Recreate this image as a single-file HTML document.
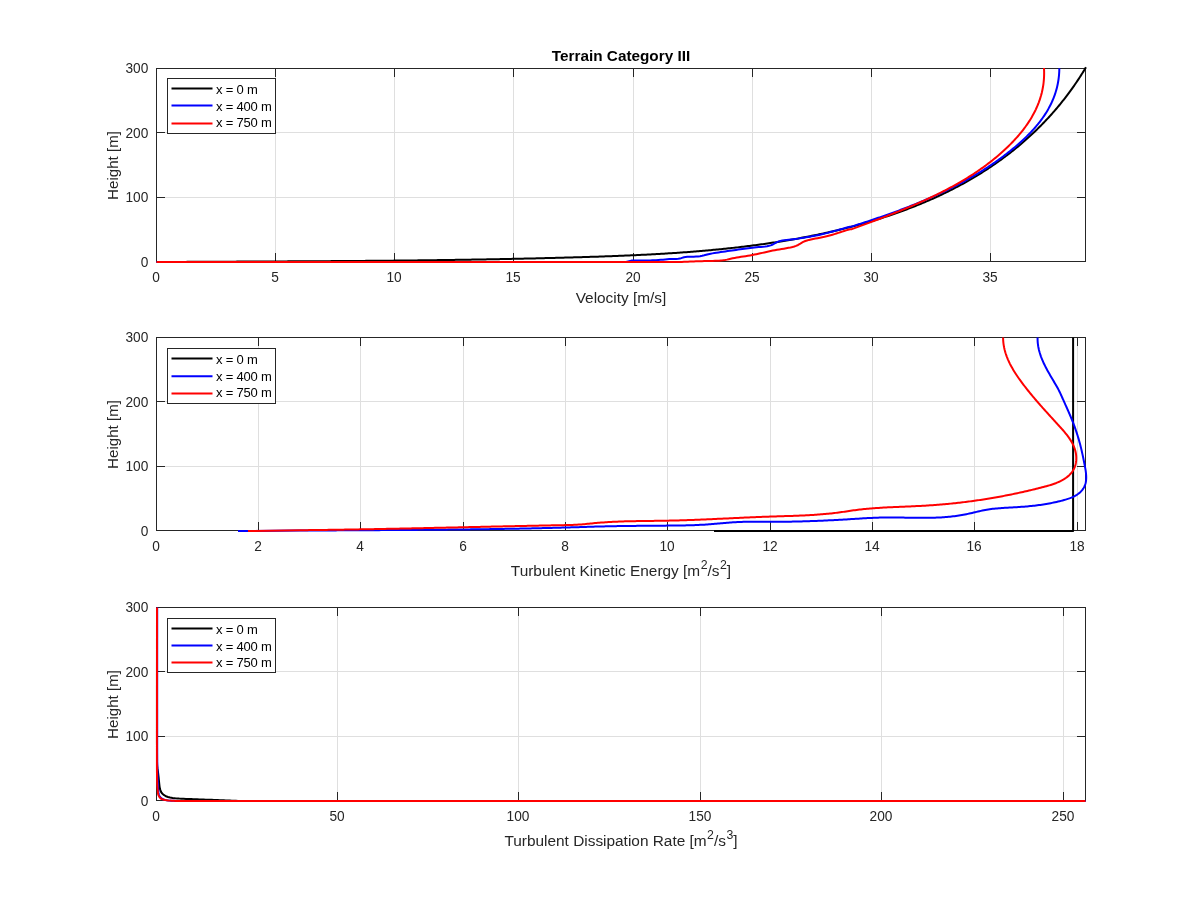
<!DOCTYPE html><html><head><meta charset="utf-8"><style>html,body{margin:0;padding:0;background:#fff;width:1200px;height:900px;overflow:hidden}svg{display:block;will-change:transform}text{font-family:"Liberation Sans", sans-serif}</style></head><body>
<svg width="1200" height="900" viewBox="0 0 1200 900">
<rect width="1200" height="900" fill="#fff"/>
<text x="621" y="61" font-size="15.3" font-weight="bold" fill="#000" text-anchor="middle">Terrain Category III</text>
<path d="M275.5,68.5V261.5M394.5,68.5V261.5M513.5,68.5V261.5M633.5,68.5V261.5M752.5,68.5V261.5M871.5,68.5V261.5M990.5,68.5V261.5M156.5,197.5H1085.5M156.5,132.5H1085.5" stroke="#dfdfdf" stroke-width="1" fill="none"/>
<rect x="156.5" y="68.5" width="929.0" height="193.0" fill="none" stroke="#262626" stroke-width="1"/>
<path d="M156.5,261.5v-8.5M156.5,68.5v8.5M275.5,261.5v-8.5M275.5,68.5v8.5M394.5,261.5v-8.5M394.5,68.5v8.5M513.5,261.5v-8.5M513.5,68.5v8.5M633.5,261.5v-8.5M633.5,68.5v8.5M752.5,261.5v-8.5M752.5,68.5v8.5M871.5,261.5v-8.5M871.5,68.5v8.5M990.5,261.5v-8.5M990.5,68.5v8.5M156.5,261.5h8.5M1085.5,261.5h-8.5M156.5,197.5h8.5M1085.5,197.5h-8.5M156.5,132.5h8.5M1085.5,132.5h-8.5M156.5,68.5h8.5M1085.5,68.5h-8.5" stroke="#262626" stroke-width="1" fill="none"/>
<text transform="translate(156.00,282.0) scale(1,1.05)" font-size="13.7" fill="#262626" text-anchor="middle">0</text>
<text transform="translate(275.00,282.0) scale(1,1.05)" font-size="13.7" fill="#262626" text-anchor="middle">5</text>
<text transform="translate(394.00,282.0) scale(1,1.05)" font-size="13.7" fill="#262626" text-anchor="middle">10</text>
<text transform="translate(513.00,282.0) scale(1,1.05)" font-size="13.7" fill="#262626" text-anchor="middle">15</text>
<text transform="translate(633.00,282.0) scale(1,1.05)" font-size="13.7" fill="#262626" text-anchor="middle">20</text>
<text transform="translate(752.00,282.0) scale(1,1.05)" font-size="13.7" fill="#262626" text-anchor="middle">25</text>
<text transform="translate(871.00,282.0) scale(1,1.05)" font-size="13.7" fill="#262626" text-anchor="middle">30</text>
<text transform="translate(990.00,282.0) scale(1,1.05)" font-size="13.7" fill="#262626" text-anchor="middle">35</text>
<text transform="translate(148.3,266.80) scale(1,1.05)" font-size="13.7" fill="#262626" text-anchor="end">0</text>
<text transform="translate(148.3,201.77) scale(1,1.05)" font-size="13.7" fill="#262626" text-anchor="end">100</text>
<text transform="translate(148.3,137.83) scale(1,1.05)" font-size="13.7" fill="#262626" text-anchor="end">200</text>
<text transform="translate(148.3,72.80) scale(1,1.05)" font-size="13.7" fill="#262626" text-anchor="end">300</text>
<text transform="translate(118,165.5) rotate(-90)" font-size="15.1" fill="#262626" text-anchor="middle">Height [m]</text>
<text x="621" y="302.5" font-size="15.4" fill="#262626" text-anchor="middle">Velocity [m/s]</text>
<path d="M156.50,262.00 L170.78,261.96 L172.29,261.95 L173.80,261.94 L175.31,261.94 L176.82,261.93 L178.33,261.92 L179.84,261.91 L181.35,261.90 L182.86,261.89 L184.36,261.89 L185.87,261.88 L187.38,261.87 L188.89,261.86 L190.40,261.85 L191.90,261.85 L193.41,261.84 L194.92,261.83 L196.43,261.82 L197.93,261.81 L199.44,261.81 L200.95,261.80 L202.45,261.79 L203.96,261.78 L205.47,261.78 L206.97,261.77 L208.48,261.76 L209.98,261.75 L211.49,261.75 L212.99,261.74 L214.50,261.73 L216.00,261.72 L217.51,261.72 L219.01,261.71 L220.52,261.70 L222.02,261.69 L223.53,261.69 L225.03,261.68 L226.54,261.67 L228.04,261.67 L229.55,261.66 L231.05,261.65 L232.55,261.64 L234.06,261.64 L235.56,261.63 L237.06,261.62 L238.57,261.62 L240.07,261.61 L241.57,261.60 L243.08,261.59 L244.58,261.59 L246.08,261.58 L247.58,261.57 L249.09,261.57 L250.59,261.56 L252.09,261.55 L253.59,261.54 L255.09,261.54 L256.60,261.53 L258.10,261.52 L259.60,261.52 L261.10,261.51 L262.60,261.50 L264.10,261.49 L265.60,261.49 L267.10,261.48 L268.61,261.47 L270.11,261.46 L271.61,261.46 L273.11,261.45 L274.61,261.44 L276.11,261.43 L277.61,261.43 L279.11,261.42 L280.61,261.41 L282.11,261.40 L283.61,261.40 L285.11,261.39 L286.61,261.38 L288.11,261.37 L289.61,261.37 L291.11,261.36 L292.61,261.35 L294.11,261.34 L295.60,261.33 L297.10,261.33 L298.60,261.32 L300.10,261.31 L301.60,261.30 L303.10,261.29 L304.60,261.28 L306.10,261.28 L307.59,261.27 L309.09,261.26 L310.59,261.25 L312.09,261.24 L313.59,261.23 L315.09,261.22 L316.58,261.21 L318.08,261.20 L319.58,261.20 L321.08,261.19 L322.58,261.18 L324.07,261.17 L325.57,261.16 L327.07,261.15 L328.57,261.14 L330.06,261.13 L331.56,261.12 L333.06,261.11 L334.55,261.10 L336.05,261.09 L337.55,261.08 L339.05,261.07 L340.54,261.06 L342.04,261.05 L343.54,261.04 L345.03,261.03 L346.53,261.02 L348.03,261.01 L349.52,261.00 L351.02,260.99 L352.52,260.97 L354.01,260.96 L355.51,260.95 L357.01,260.94 L358.50,260.93 L360.00,260.92 L361.49,260.91 L362.99,260.89 L364.49,260.88 L365.98,260.87 L367.48,260.86 L368.97,260.84 L370.47,260.83 L371.97,260.82 L373.46,260.81 L374.96,260.79 L376.45,260.78 L377.95,260.77 L379.45,260.75 L380.94,260.74 L382.44,260.73 L383.93,260.71 L385.43,260.70 L386.92,260.69 L388.42,260.67 L389.92,260.66 L391.41,260.64 L392.91,260.63 L394.40,260.61 L395.90,260.60 L397.39,260.58 L398.89,260.57 L400.38,260.55 L401.88,260.54 L403.37,260.52 L404.87,260.51 L406.37,260.49 L407.86,260.48 L409.36,260.46 L410.85,260.44 L412.35,260.43 L413.84,260.41 L415.34,260.39 L416.83,260.38 L418.33,260.36 L419.82,260.34 L421.32,260.32 L422.81,260.31 L424.31,260.29 L425.80,260.27 L427.30,260.25 L428.79,260.23 L430.29,260.22 L431.78,260.20 L433.28,260.18 L434.78,260.16 L436.27,260.14 L437.77,260.12 L439.26,260.10 L440.76,260.08 L442.25,260.06 L443.75,260.04 L445.24,260.02 L446.74,260.00 L448.23,259.98 L449.73,259.96 L451.22,259.94 L452.72,259.91 L454.21,259.89 L455.71,259.87 L457.21,259.85 L458.70,259.83 L460.20,259.80 L461.69,259.78 L463.19,259.76 L464.68,259.73 L466.18,259.71 L467.67,259.69 L469.17,259.66 L470.67,259.64 L472.16,259.62 L473.66,259.59 L475.15,259.57 L476.65,259.54 L478.14,259.52 L479.64,259.49 L481.14,259.46 L482.63,259.44 L484.13,259.41 L485.62,259.39 L487.12,259.36 L488.62,259.33 L490.11,259.31 L491.61,259.28 L493.11,259.25 L494.60,259.22 L496.10,259.20 L497.59,259.17 L499.09,259.14 L500.59,259.11 L502.08,259.08 L503.58,259.05 L505.08,259.02 L506.57,258.99 L508.07,258.96 L509.57,258.93 L511.06,258.90 L512.56,258.87 L514.06,258.84 L515.55,258.81 L517.05,258.78 L518.55,258.74 L520.05,258.71 L521.54,258.68 L523.04,258.65 L524.54,258.61 L526.04,258.58 L527.53,258.55 L529.03,258.51 L530.53,258.48 L532.03,258.45 L533.52,258.41 L535.02,258.38 L536.52,258.34 L538.02,258.31 L539.52,258.27 L541.01,258.23 L542.51,258.20 L544.01,258.16 L545.51,258.12 L547.01,258.09 L548.51,258.05 L550.00,258.01 L551.50,257.97 L553.00,257.94 L554.50,257.90 L556.00,257.86 L557.50,257.82 L559.00,257.78 L560.50,257.74 L562.00,257.70 L563.50,257.66 L565.00,257.62 L566.49,257.58 L567.99,257.53 L569.49,257.49 L570.99,257.45 L572.49,257.41 L573.99,257.37 L575.49,257.32 L576.99,257.28 L578.49,257.24 L580.00,257.19 L581.50,257.15 L583.00,257.10 L584.50,257.06 L586.00,257.01 L587.50,256.97 L589.00,256.92 L590.50,256.87 L592.00,256.82 L593.50,256.78 L595.00,256.73 L596.51,256.68 L598.01,256.63 L599.51,256.58 L601.01,256.53 L602.51,256.48 L604.01,256.42 L605.51,256.37 L607.02,256.32 L608.52,256.26 L610.02,256.21 L611.52,256.15 L613.02,256.10 L614.52,256.04 L616.03,255.98 L617.53,255.92 L619.03,255.87 L620.53,255.81 L622.03,255.74 L623.53,255.68 L625.04,255.62 L626.54,255.56 L628.04,255.49 L629.54,255.43 L631.04,255.36 L632.55,255.30 L634.05,255.23 L635.55,255.16 L637.05,255.09 L638.55,255.02 L640.05,254.95 L641.56,254.87 L643.06,254.80 L644.56,254.72 L646.06,254.65 L647.56,254.57 L649.06,254.49 L650.56,254.41 L652.07,254.33 L653.57,254.25 L655.07,254.17 L656.57,254.09 L658.07,254.00 L659.57,253.92 L661.07,253.83 L662.57,253.74 L664.07,253.65 L665.57,253.56 L667.08,253.47 L668.58,253.37 L670.08,253.28 L671.58,253.18 L673.08,253.08 L674.58,252.98 L676.08,252.88 L677.58,252.78 L679.08,252.68 L680.58,252.57 L682.08,252.47 L683.58,252.36 L685.08,252.25 L686.57,252.14 L688.07,252.03 L689.57,251.91 L691.07,251.80 L692.57,251.68 L694.07,251.56 L695.57,251.44 L697.07,251.32 L698.56,251.20 L700.06,251.07 L701.56,250.94 L703.06,250.82 L704.56,250.69 L706.05,250.55 L707.55,250.42 L709.05,250.29 L710.54,250.15 L712.04,250.01 L713.54,249.87 L715.03,249.73 L716.53,249.58 L718.03,249.44 L719.52,249.29 L721.02,249.14 L722.51,248.99 L724.01,248.84 L725.50,248.68 L727.00,248.52 L728.49,248.36 L729.99,248.20 L731.48,248.04 L732.98,247.88 L734.47,247.71 L735.96,247.54 L737.46,247.37 L738.95,247.19 L740.44,247.02 L741.93,246.84 L743.43,246.66 L744.92,246.48 L746.41,246.30 L747.90,246.11 L749.39,245.92 L750.89,245.73 L752.38,245.54 L753.87,245.35 L755.36,245.15 L756.85,244.95 L758.34,244.75 L759.83,244.54 L761.32,244.34 L762.81,244.13 L764.30,243.92 L765.78,243.71 L767.27,243.49 L768.76,243.27 L770.25,243.05 L771.74,242.83 L773.22,242.61 L774.71,242.38 L776.20,242.15 L777.68,241.92 L779.17,241.68 L780.65,241.44 L782.14,241.20 L783.62,240.96 L785.11,240.72 L786.59,240.47 L788.08,240.22 L789.56,239.97 L791.04,239.71 L792.53,239.45 L794.01,239.19 L795.49,238.93 L796.97,238.66 L798.46,238.40 L799.94,238.12 L801.42,237.85 L802.90,237.57 L804.38,237.29 L805.86,237.01 L807.34,236.73 L808.82,236.44 L810.29,236.15 L811.77,235.85 L813.25,235.56 L814.73,235.26 L816.20,234.96 L817.68,234.65 L819.15,234.34 L820.63,234.03 L822.10,233.72 L823.57,233.40 L825.05,233.08 L826.52,232.76 L827.99,232.43 L829.46,232.10 L830.93,231.77 L832.40,231.43 L833.87,231.09 L835.33,230.75 L836.80,230.41 L838.26,230.06 L839.73,229.71 L841.19,229.35 L842.65,229.00 L844.12,228.63 L845.58,228.27 L847.04,227.90 L848.49,227.53 L849.95,227.16 L851.41,226.78 L852.86,226.40 L854.32,226.01 L855.77,225.62 L857.22,225.23 L858.67,224.84 L860.12,224.44 L861.57,224.04 L863.01,223.63 L864.46,223.22 L865.90,222.81 L867.35,222.39 L868.79,221.98 L870.23,221.55 L871.67,221.13 L873.10,220.69 L874.54,220.26 L875.97,219.82 L877.41,219.38 L878.84,218.94 L880.27,218.49 L881.70,218.03 L883.12,217.58 L884.55,217.12 L885.97,216.65 L887.39,216.19 L888.81,215.71 L890.23,215.24 L891.65,214.76 L893.07,214.27 L894.48,213.79 L895.89,213.30 L897.30,212.80 L898.71,212.30 L900.11,211.80 L901.52,211.29 L902.92,210.78 L904.32,210.26 L905.72,209.74 L907.12,209.22 L908.51,208.69 L909.91,208.16 L911.30,207.63 L912.68,207.09 L914.07,206.54 L915.46,205.99 L916.84,205.44 L918.22,204.88 L919.60,204.32 L920.97,203.76 L922.35,203.19 L923.72,202.61 L925.09,202.03 L926.46,201.45 L927.82,200.86 L929.18,200.27 L930.55,199.68 L931.90,199.08 L933.26,198.47 L934.61,197.86 L935.96,197.25 L937.31,196.63 L938.66,196.01 L940.00,195.38 L941.34,194.75 L942.68,194.11 L944.02,193.47 L945.35,192.83 L946.68,192.18 L948.01,191.52 L949.34,190.86 L950.66,190.20 L951.98,189.53 L953.30,188.85 L954.62,188.18 L955.93,187.49 L957.24,186.81 L958.54,186.11 L959.85,185.41 L961.15,184.71 L962.45,184.00 L963.74,183.29 L965.04,182.58 L966.33,181.85 L967.61,181.13 L968.90,180.40 L970.18,179.66 L971.46,178.92 L972.73,178.17 L974.01,177.42 L975.27,176.66 L976.54,175.90 L977.80,175.13 L979.06,174.36 L980.32,173.58 L981.57,172.80 L982.82,172.01 L984.07,171.22 L985.32,170.42 L986.56,169.62 L987.79,168.81 L989.03,168.00 L990.26,167.18 L991.49,166.35 L992.71,165.52 L993.93,164.69 L995.15,163.85 L996.36,163.00 L997.57,162.15 L998.78,161.30 L999.98,160.44 L1001.18,159.57 L1002.38,158.70 L1003.57,157.82 L1004.76,156.94 L1005.95,156.05 L1007.13,155.15 L1008.31,154.25 L1009.48,153.35 L1010.65,152.44 L1011.82,151.52 L1012.98,150.60 L1014.14,149.67 L1015.30,148.74 L1016.45,147.80 L1017.60,146.86 L1018.74,145.91 L1019.88,144.95 L1021.02,143.99 L1022.15,143.02 L1023.28,142.05 L1024.40,141.07 L1025.52,140.09 L1026.64,139.10 L1027.75,138.10 L1028.86,137.10 L1029.96,136.09 L1031.06,135.08 L1032.15,134.06 L1033.25,133.04 L1034.33,132.01 L1035.41,130.97 L1036.49,129.93 L1037.57,128.88 L1038.63,127.83 L1039.70,126.77 L1040.76,125.70 L1041.82,124.63 L1042.87,123.55 L1043.91,122.47 L1044.96,121.38 L1045.99,120.28 L1047.03,119.18 L1048.06,118.07 L1049.08,116.96 L1050.10,115.84 L1051.12,114.71 L1052.13,113.58 L1053.13,112.44 L1054.13,111.30 L1055.13,110.15 L1056.12,108.99 L1057.11,107.83 L1058.09,106.66 L1059.06,105.49 L1060.04,104.30 L1061.00,103.12 L1061.96,101.92 L1062.92,100.72 L1063.87,99.52 L1064.82,98.30 L1065.76,97.08 L1066.70,95.86 L1067.63,94.63 L1068.56,93.39 L1069.48,92.14 L1070.39,90.89 L1071.31,89.64 L1072.21,88.37 L1073.11,87.10 L1074.01,85.83 L1074.90,84.54 L1075.78,83.25 L1076.66,81.96 L1077.53,80.65 L1078.40,79.34 L1079.27,78.03 L1080.12,76.71 L1080.98,75.38 L1081.82,74.04 L1082.66,72.70 L1083.50,71.35 L1084.33,70.00 L1085.15,68.63 L1085.97,67.27" stroke="#000" stroke-width="2" fill="none" stroke-linejoin="round"/>
<path d="M156.50,262.00 L626.00,262.00 L631.30,260.60 L633.38,260.57 L635.50,260.55 L637.65,260.53 L639.82,260.51 L641.98,260.50 L644.13,260.48 L646.25,260.46 L648.33,260.43 L650.36,260.39 L652.32,260.34 L654.21,260.28 L656.00,260.20 L658.47,260.05 L660.79,259.86 L663.00,259.66 L665.13,259.45 L667.21,259.26 L669.30,259.10 L671.60,259.00 L673.92,258.97 L676.16,258.93 L678.22,258.83 L680.00,258.60 L681.95,257.91 L684.00,257.20 L685.50,256.98 L687.32,256.84 L689.35,256.76 L691.53,256.70 L693.77,256.64 L695.98,256.55 L698.09,256.42 L700.00,256.20 L702.21,255.80 L704.22,255.31 L706.20,254.77 L708.30,254.22 L710.70,253.70 L712.45,253.38 L714.35,253.05 L716.39,252.72 L718.53,252.39 L720.75,252.06 L723.01,251.73 L725.30,251.40 L727.57,251.08 L729.80,250.77 L731.97,250.46 L734.05,250.18 L736.00,249.90 L738.21,249.59 L740.33,249.30 L742.37,249.02 L744.36,248.75 L746.34,248.49 L748.32,248.23 L750.33,247.97 L752.40,247.70 L754.43,247.47 L756.55,247.27 L758.72,247.08 L760.90,246.90 L763.06,246.70 L765.16,246.47 L767.15,246.18 L769.01,245.83 L770.70,245.40 L772.87,244.50 L774.66,243.42 L776.48,242.34 L778.70,241.40 L780.40,240.94 L782.28,240.55 L784.32,240.21 L786.48,239.92 L788.72,239.65 L791.01,239.40 L793.32,239.16 L795.61,238.90 L797.85,238.62 L800.00,238.30 L802.01,237.98 L803.98,237.66 L805.93,237.34 L807.87,237.03 L809.80,236.70 L811.76,236.35 L813.74,235.99 L815.77,235.59 L817.85,235.17 L820.00,234.70 L821.83,234.28 L823.71,233.83 L825.63,233.35 L827.58,232.85 L829.57,232.32 L831.58,231.78 L833.61,231.23 L835.66,230.66 L837.72,230.09 L839.78,229.51 L841.85,228.94 L843.91,228.36 L845.96,227.80 L847.99,227.24 L850.00,226.70 L851.72,226.54 L853.12,226.10 L854.51,225.65 L855.90,225.21 L857.30,224.76 L858.70,224.31 L860.09,223.86 L861.49,223.41 L862.89,222.96 L864.29,222.50 L865.69,222.04 L867.09,221.58 L868.49,221.12 L869.90,220.66 L871.30,220.19 L872.70,219.72 L874.10,219.25 L875.51,218.78 L876.91,218.30 L878.31,217.82 L879.72,217.34 L881.12,216.86 L882.53,216.37 L883.93,215.88 L885.33,215.39 L886.74,214.90 L888.14,214.40 L889.54,213.90 L890.95,213.40 L892.35,212.89 L893.75,212.38 L895.15,211.87 L896.56,211.36 L897.96,210.84 L899.36,210.32 L900.76,209.80 L902.16,209.27 L903.56,208.74 L904.95,208.21 L906.35,207.67 L907.75,207.13 L909.14,206.59 L910.54,206.04 L911.93,205.49 L913.32,204.94 L914.71,204.38 L916.10,203.82 L917.49,203.25 L918.88,202.69 L920.26,202.11 L921.65,201.54 L923.03,200.96 L924.41,200.38 L925.79,199.79 L927.17,199.20 L928.55,198.60 L929.92,198.00 L931.30,197.40 L932.67,196.79 L934.04,196.18 L935.41,195.56 L936.77,194.94 L938.14,194.32 L939.50,193.69 L940.86,193.06 L942.22,192.42 L943.58,191.78 L944.93,191.13 L946.28,190.48 L947.63,189.83 L948.98,189.17 L950.32,188.50 L951.66,187.83 L953.00,187.16 L954.34,186.48 L955.67,185.79 L957.01,185.11 L958.33,184.41 L959.66,183.71 L960.98,183.01 L962.30,182.30 L963.62,181.59 L964.94,180.87 L966.25,180.14 L967.56,179.41 L968.86,178.68 L970.16,177.94 L971.46,177.20 L972.76,176.44 L974.05,175.69 L975.34,174.93 L976.63,174.16 L977.91,173.39 L979.19,172.61 L980.46,171.83 L981.73,171.04 L983.00,170.24 L984.27,169.44 L985.53,168.63 L986.78,167.82 L988.04,167.00 L989.28,166.18 L990.53,165.35 L991.77,164.51 L993.01,163.67 L994.24,162.82 L995.47,161.96 L996.69,161.10 L997.91,160.24 L999.13,159.36 L1000.34,158.48 L1001.55,157.60 L1002.75,156.70 L1003.95,155.80 L1005.14,154.90 L1006.33,153.99 L1007.51,153.07 L1008.69,152.14 L1009.87,151.21 L1011.04,150.27 L1012.20,149.32 L1013.36,148.37 L1014.52,147.41 L1015.67,146.45 L1016.81,145.47 L1017.95,144.49 L1019.08,143.51 L1020.20,142.51 L1021.31,141.51 L1022.42,140.50 L1023.52,139.48 L1024.61,138.45 L1025.69,137.42 L1026.76,136.37 L1027.82,135.32 L1028.87,134.26 L1029.91,133.20 L1030.94,132.12 L1031.96,131.04 L1032.96,129.94 L1033.95,128.84 L1034.93,127.73 L1035.90,126.61 L1036.85,125.48 L1037.79,124.34 L1038.71,123.19 L1039.62,122.03 L1040.52,120.87 L1041.40,119.69 L1042.26,118.50 L1043.10,117.30 L1043.93,116.10 L1044.75,114.88 L1045.54,113.65 L1046.32,112.41 L1047.08,111.16 L1047.82,109.90 L1048.54,108.63 L1049.24,107.35 L1049.92,106.06 L1050.58,104.75 L1051.22,103.44 L1051.84,102.11 L1052.44,100.77 L1053.01,99.43 L1053.56,98.06 L1054.09,96.69 L1054.60,95.31 L1055.09,93.91 L1055.55,92.50 L1055.98,91.08 L1056.39,89.65 L1056.78,88.20 L1057.14,86.74 L1057.47,85.27 L1057.78,83.79 L1058.06,82.29 L1058.31,80.78 L1058.54,79.26 L1058.74,77.72 L1058.91,76.17 L1059.05,74.61 L1059.16,73.03 L1059.25,71.44 L1059.30,69.84 L1059.32,68.22" stroke="#0000ff" stroke-width="2" fill="none" stroke-linejoin="round"/>
<path d="M156.50,262.00 L680.00,262.00 L681.99,261.92 L683.98,261.84 L685.96,261.76 L687.94,261.68 L689.92,261.60 L691.91,261.52 L693.91,261.44 L695.92,261.36 L697.95,261.28 L700.00,261.20 L702.04,261.13 L704.14,261.08 L706.29,261.03 L708.46,260.99 L710.63,260.95 L712.80,260.90 L714.92,260.83 L717.00,260.74 L719.00,260.63 L720.91,260.48 L722.70,260.30 L724.90,259.99 L726.90,259.61 L728.80,259.19 L730.67,258.75 L732.61,258.32 L734.70,257.90 L736.74,257.54 L738.88,257.20 L741.07,256.86 L743.32,256.51 L745.59,256.16 L747.88,255.80 L750.15,255.41 L752.40,255.00 L754.41,254.60 L756.39,254.19 L758.37,253.76 L760.35,253.31 L762.35,252.86 L764.37,252.40 L766.43,251.93 L768.53,251.46 L770.70,251.00 L772.71,250.60 L774.83,250.21 L777.04,249.83 L779.31,249.45 L781.61,249.07 L783.91,248.67 L786.18,248.27 L788.38,247.85 L790.50,247.41 L792.49,246.94 L794.34,246.44 L796.00,245.90 L798.13,244.98 L799.89,243.97 L801.51,242.92 L803.24,241.91 L805.30,241.00 L807.06,240.43 L808.97,239.91 L811.01,239.45 L813.15,239.01 L815.37,238.60 L817.64,238.19 L819.93,237.77 L822.23,237.32 L824.49,236.84 L826.70,236.30 L828.62,235.79 L830.54,235.24 L832.47,234.68 L834.41,234.10 L836.35,233.50 L838.30,232.89 L840.25,232.27 L842.21,231.65 L844.16,231.03 L846.11,230.41 L848.06,229.80 L850.00,229.20 L851.87,229.17 L853.21,228.67 L854.56,228.17 L855.91,227.67 L857.26,227.17 L858.61,226.66 L859.97,226.16 L861.33,225.65 L862.69,225.15 L864.05,224.64 L865.42,224.13 L866.79,223.62 L868.16,223.11 L869.53,222.60 L870.90,222.08 L872.28,221.57 L873.65,221.05 L875.03,220.53 L876.41,220.01 L877.79,219.49 L879.17,218.96 L880.56,218.44 L881.94,217.91 L883.33,217.38 L884.71,216.84 L886.10,216.31 L887.49,215.77 L888.88,215.23 L890.27,214.69 L891.65,214.14 L893.04,213.60 L894.43,213.05 L895.83,212.50 L897.22,211.94 L898.61,211.38 L900.00,210.82 L901.39,210.26 L902.78,209.69 L904.17,209.12 L905.56,208.55 L906.94,207.97 L908.33,207.40 L909.72,206.81 L911.11,206.23 L912.49,205.64 L913.88,205.05 L915.26,204.45 L916.64,203.85 L918.03,203.25 L919.41,202.64 L920.79,202.03 L922.16,201.41 L923.54,200.79 L924.91,200.17 L926.29,199.54 L927.66,198.91 L929.03,198.28 L930.39,197.64 L931.76,196.99 L933.12,196.35 L934.48,195.69 L935.84,195.04 L937.20,194.37 L938.55,193.71 L939.90,193.04 L941.25,192.36 L942.59,191.68 L943.93,190.99 L945.27,190.30 L946.61,189.61 L947.94,188.91 L949.27,188.20 L950.60,187.49 L951.92,186.77 L953.24,186.05 L954.56,185.32 L955.87,184.59 L957.18,183.85 L958.49,183.11 L959.79,182.36 L961.08,181.60 L962.38,180.84 L963.67,180.08 L964.95,179.30 L966.23,178.52 L967.51,177.74 L968.78,176.95 L970.05,176.15 L971.31,175.35 L972.56,174.54 L973.82,173.72 L975.06,172.90 L976.31,172.07 L977.54,171.23 L978.78,170.39 L980.00,169.54 L981.22,168.69 L982.44,167.82 L983.65,166.95 L984.86,166.08 L986.05,165.19 L987.25,164.30 L988.43,163.40 L989.62,162.50 L990.79,161.59 L991.96,160.67 L993.12,159.74 L994.28,158.81 L995.43,157.86 L996.57,156.91 L997.71,155.96 L998.84,154.99 L999.96,154.02 L1001.08,153.04 L1002.19,152.05 L1003.29,151.05 L1004.38,150.05 L1005.47,149.03 L1006.55,148.01 L1007.63,146.98 L1008.69,145.95 L1009.75,144.90 L1010.80,143.85 L1011.84,142.78 L1012.87,141.71 L1013.89,140.63 L1014.91,139.54 L1015.91,138.44 L1016.90,137.34 L1017.88,136.22 L1018.85,135.10 L1019.81,133.97 L1020.75,132.83 L1021.69,131.67 L1022.60,130.51 L1023.51,129.35 L1024.40,128.17 L1025.28,126.98 L1026.14,125.78 L1026.99,124.58 L1027.82,123.36 L1028.64,122.14 L1029.44,120.90 L1030.22,119.66 L1030.99,118.41 L1031.74,117.14 L1032.47,115.87 L1033.18,114.59 L1033.88,113.29 L1034.55,111.99 L1035.21,110.68 L1035.85,109.36 L1036.46,108.02 L1037.06,106.68 L1037.63,105.33 L1038.18,103.97 L1038.72,102.59 L1039.22,101.21 L1039.71,99.81 L1040.17,98.41 L1040.61,96.99 L1041.03,95.57 L1041.42,94.13 L1041.79,92.69 L1042.13,91.23 L1042.44,89.76 L1042.73,88.28 L1043.00,86.79 L1043.24,85.29 L1043.45,83.78 L1043.63,82.25 L1043.78,80.72 L1043.91,79.18 L1044.01,77.62 L1044.08,76.05 L1044.12,74.47 L1044.13,72.88 L1044.11,71.28 L1044.06,69.67 L1043.97,68.04" stroke="#ff0000" stroke-width="2" fill="none" stroke-linejoin="round"/>
<rect x="167.5" y="78.5" width="108" height="55" fill="#fff" stroke="#262626" stroke-width="1"/>
<path d="M171.5,88.4H212.5" stroke="#000" stroke-width="2" fill="none"/>
<text x="216" y="93.8" font-size="13" letter-spacing="-0.2" fill="#000">x = 0 m</text>
<path d="M171.5,105.5H212.5" stroke="#0000ff" stroke-width="2" fill="none"/>
<text x="216" y="110.6" font-size="13" letter-spacing="-0.2" fill="#000">x = 400 m</text>
<path d="M171.5,123.4H212.5" stroke="#ff0000" stroke-width="2" fill="none"/>
<text x="216" y="127.4" font-size="13" letter-spacing="-0.2" fill="#000">x = 750 m</text>
<path d="M258.5,337.5V530.5M360.5,337.5V530.5M463.5,337.5V530.5M565.5,337.5V530.5M667.5,337.5V530.5M770.5,337.5V530.5M872.5,337.5V530.5M974.5,337.5V530.5M1077.5,337.5V530.5M156.5,466.5H1085.5M156.5,401.5H1085.5" stroke="#dfdfdf" stroke-width="1" fill="none"/>
<rect x="156.5" y="337.5" width="929.0" height="193.0" fill="none" stroke="#262626" stroke-width="1"/>
<path d="M156.5,530.5v-8.5M156.5,337.5v8.5M258.5,530.5v-8.5M258.5,337.5v8.5M360.5,530.5v-8.5M360.5,337.5v8.5M463.5,530.5v-8.5M463.5,337.5v8.5M565.5,530.5v-8.5M565.5,337.5v8.5M667.5,530.5v-8.5M667.5,337.5v8.5M770.5,530.5v-8.5M770.5,337.5v8.5M872.5,530.5v-8.5M872.5,337.5v8.5M974.5,530.5v-8.5M974.5,337.5v8.5M1077.5,530.5v-8.5M1077.5,337.5v8.5M156.5,530.5h8.5M1085.5,530.5h-8.5M156.5,466.5h8.5M1085.5,466.5h-8.5M156.5,401.5h8.5M1085.5,401.5h-8.5M156.5,337.5h8.5M1085.5,337.5h-8.5" stroke="#262626" stroke-width="1" fill="none"/>
<text transform="translate(156.00,551.0) scale(1,1.05)" font-size="13.7" fill="#262626" text-anchor="middle">0</text>
<text transform="translate(258.00,551.0) scale(1,1.05)" font-size="13.7" fill="#262626" text-anchor="middle">2</text>
<text transform="translate(360.00,551.0) scale(1,1.05)" font-size="13.7" fill="#262626" text-anchor="middle">4</text>
<text transform="translate(463.00,551.0) scale(1,1.05)" font-size="13.7" fill="#262626" text-anchor="middle">6</text>
<text transform="translate(565.00,551.0) scale(1,1.05)" font-size="13.7" fill="#262626" text-anchor="middle">8</text>
<text transform="translate(667.00,551.0) scale(1,1.05)" font-size="13.7" fill="#262626" text-anchor="middle">10</text>
<text transform="translate(770.00,551.0) scale(1,1.05)" font-size="13.7" fill="#262626" text-anchor="middle">12</text>
<text transform="translate(872.00,551.0) scale(1,1.05)" font-size="13.7" fill="#262626" text-anchor="middle">14</text>
<text transform="translate(974.00,551.0) scale(1,1.05)" font-size="13.7" fill="#262626" text-anchor="middle">16</text>
<text transform="translate(1077.00,551.0) scale(1,1.05)" font-size="13.7" fill="#262626" text-anchor="middle">18</text>
<text transform="translate(148.3,535.80) scale(1,1.05)" font-size="13.7" fill="#262626" text-anchor="end">0</text>
<text transform="translate(148.3,470.77) scale(1,1.05)" font-size="13.7" fill="#262626" text-anchor="end">100</text>
<text transform="translate(148.3,406.83) scale(1,1.05)" font-size="13.7" fill="#262626" text-anchor="end">200</text>
<text transform="translate(148.3,341.80) scale(1,1.05)" font-size="13.7" fill="#262626" text-anchor="end">300</text>
<text transform="translate(118,434.5) rotate(-90)" font-size="15.1" fill="#262626" text-anchor="middle">Height [m]</text>
<text x="621" y="576" font-size="15.4" fill="#262626" text-anchor="middle">Turbulent Kinetic Energy [m<tspan dx="0.5" dy="-7" font-size="12.3">2</tspan><tspan dy="7">/s</tspan><tspan dx="0.5" dy="-7" font-size="12.3">2</tspan><tspan dy="7">]</tspan></text>
<path d="M714.00,531.00 L1073.10,531.00 L1073.10,337.50" stroke="#000" stroke-width="2" fill="none" stroke-linejoin="round"/>
<path d="M238.00,531.00 L300.00,530.62 L301.50,530.61 L303.00,530.59 L304.49,530.58 L305.99,530.57 L307.49,530.56 L308.99,530.55 L310.48,530.54 L311.98,530.53 L313.48,530.52 L314.98,530.51 L316.48,530.50 L317.97,530.49 L319.47,530.48 L320.97,530.47 L322.47,530.46 L323.96,530.45 L325.46,530.44 L326.96,530.43 L328.46,530.42 L329.96,530.41 L331.45,530.40 L332.95,530.40 L334.45,530.39 L335.95,530.38 L337.45,530.37 L338.95,530.36 L340.44,530.35 L341.94,530.34 L343.44,530.33 L344.94,530.32 L346.44,530.32 L347.93,530.31 L349.43,530.30 L350.93,530.29 L352.43,530.28 L353.93,530.27 L355.43,530.26 L356.92,530.26 L358.42,530.25 L359.92,530.24 L361.42,530.23 L362.92,530.22 L364.42,530.21 L365.91,530.21 L367.41,530.20 L368.91,530.19 L370.41,530.18 L371.91,530.17 L373.41,530.16 L374.90,530.15 L376.40,530.15 L377.90,530.14 L379.40,530.13 L380.90,530.12 L382.40,530.11 L383.89,530.10 L385.39,530.09 L386.89,530.08 L388.39,530.07 L389.89,530.07 L391.39,530.06 L392.89,530.05 L394.38,530.04 L395.88,530.03 L397.38,530.02 L398.88,530.01 L400.38,530.00 L401.88,529.99 L403.37,529.98 L404.87,529.97 L406.37,529.96 L407.87,529.95 L409.37,529.94 L410.87,529.93 L412.37,529.92 L413.86,529.91 L415.36,529.90 L416.86,529.89 L418.36,529.87 L419.86,529.86 L421.36,529.85 L422.86,529.84 L424.35,529.83 L425.85,529.82 L427.35,529.81 L428.85,529.79 L430.35,529.78 L431.85,529.77 L433.35,529.76 L434.84,529.74 L436.34,529.73 L437.84,529.72 L439.34,529.70 L440.84,529.69 L442.34,529.68 L443.84,529.66 L445.33,529.65 L446.83,529.63 L448.33,529.62 L449.83,529.60 L451.33,529.59 L452.83,529.57 L454.32,529.56 L455.82,529.54 L457.32,529.53 L458.82,529.51 L460.32,529.49 L461.82,529.48 L463.32,529.46 L464.81,529.44 L466.31,529.43 L467.81,529.41 L469.31,529.39 L470.81,529.37 L472.31,529.35 L473.80,529.33 L475.30,529.32 L476.80,529.30 L478.30,529.28 L479.80,529.26 L481.30,529.24 L482.79,529.22 L484.29,529.20 L485.79,529.17 L487.29,529.15 L488.79,529.13 L490.29,529.11 L491.78,529.09 L493.28,529.06 L494.78,529.04 L496.28,529.02 L497.78,529.00 L499.27,528.97 L500.77,528.95 L502.27,528.92 L503.77,528.90 L505.27,528.87 L506.77,528.85 L508.26,528.82 L509.76,528.79 L511.26,528.77 L512.76,528.74 L514.26,528.71 L515.75,528.69 L517.25,528.66 L518.75,528.63 L520.25,528.60 L521.74,528.57 L523.24,528.54 L524.74,528.51 L526.24,528.48 L527.74,528.45 L529.23,528.42 L530.73,528.39 L532.23,528.35 L533.73,528.32 L535.23,528.29 L536.72,528.25 L538.22,528.22 L539.72,528.19 L541.22,528.15 L542.71,528.12 L544.21,528.08 L545.71,528.05 L547.21,528.01 L548.70,527.97 L550.20,527.93 L551.70,527.90 L553.20,527.86 L554.69,527.82 L556.19,527.78 L557.69,527.74 L559.18,527.70 L560.68,527.66 L562.18,527.62 L563.68,527.58 L565.17,527.53 L566.67,527.49 L568.17,527.45 L569.67,527.40 L571.16,527.36 L572.66,527.32 L574.16,527.27 L575.65,527.22 L577.15,527.18 L578.65,527.13 L580.14,527.08 L581.64,527.04 L583.14,526.99 L584.63,526.94 L586.13,526.89 L587.63,526.85 L589.13,526.80 L590.62,526.75 L592.12,526.71 L593.62,526.66 L595.11,526.62 L596.61,526.58 L598.11,526.53 L599.60,526.49 L601.10,526.46 L602.60,526.42 L604.09,526.38 L605.59,526.35 L607.09,526.31 L608.59,526.28 L610.08,526.25 L611.58,526.22 L613.08,526.19 L614.57,526.16 L616.07,526.14 L617.57,526.11 L619.07,526.09 L620.56,526.06 L622.06,526.04 L623.56,526.02 L625.06,526.00 L626.55,525.98 L628.05,525.96 L629.55,525.94 L631.05,525.93 L632.55,525.91 L634.04,525.89 L635.54,525.88 L637.04,525.86 L638.54,525.85 L640.04,525.83 L641.53,525.82 L643.03,525.81 L644.53,525.79 L646.03,525.78 L647.53,525.77 L649.02,525.76 L650.52,525.74 L652.02,525.73 L653.52,525.72 L655.02,525.71 L656.52,525.70 L658.01,525.69 L659.51,525.67 L661.01,525.66 L662.51,525.65 L664.01,525.64 L665.51,525.63 L667.01,525.61 L668.51,525.60 L670.00,525.59 L671.50,525.57 L673.00,525.56 L674.50,525.54 L676.00,525.53 L677.50,525.51 L679.00,525.49 L680.50,525.46 L682.00,525.44 L683.49,525.41 L684.99,525.38 L686.49,525.35 L687.99,525.31 L689.49,525.27 L690.99,525.23 L692.48,525.18 L693.98,525.13 L695.48,525.07 L696.97,525.01 L698.47,524.94 L699.97,524.87 L701.46,524.80 L702.96,524.72 L704.46,524.63 L705.95,524.53 L707.44,524.43 L708.94,524.33 L710.43,524.22 L711.93,524.10 L713.42,523.97 L714.91,523.84 L716.41,523.71 L717.90,523.57 L719.39,523.43 L720.88,523.29 L722.38,523.15 L723.87,523.02 L725.36,522.89 L726.85,522.76 L728.35,522.63 L729.84,522.52 L731.33,522.41 L732.83,522.31 L734.32,522.21 L735.82,522.13 L737.31,522.06 L738.81,522.00 L740.30,521.94 L741.80,521.90 L743.30,521.86 L744.80,521.82 L746.29,521.80 L747.79,521.77 L749.29,521.76 L750.79,521.75 L752.29,521.74 L753.79,521.74 L755.29,521.74 L756.79,521.74 L758.29,521.75 L759.79,521.75 L761.28,521.76 L762.78,521.77 L764.28,521.78 L765.78,521.79 L767.28,521.79 L768.78,521.80 L770.28,521.81 L771.78,521.81 L773.28,521.81 L774.78,521.81 L776.28,521.80 L777.78,521.79 L779.28,521.78 L780.78,521.77 L782.28,521.76 L783.77,521.74 L785.27,521.73 L786.77,521.70 L788.27,521.68 L789.77,521.66 L791.27,521.63 L792.76,521.60 L794.26,521.57 L795.76,521.54 L797.26,521.50 L798.76,521.47 L800.25,521.43 L801.75,521.39 L803.25,521.35 L804.75,521.30 L806.24,521.26 L807.74,521.21 L809.24,521.16 L810.73,521.11 L812.23,521.05 L813.73,521.00 L815.22,520.94 L816.72,520.88 L818.22,520.82 L819.71,520.76 L821.21,520.70 L822.71,520.63 L824.20,520.57 L825.70,520.50 L827.19,520.43 L828.69,520.36 L830.19,520.28 L831.68,520.21 L833.18,520.13 L834.67,520.06 L836.17,519.98 L837.66,519.90 L839.16,519.82 L840.66,519.74 L842.15,519.65 L843.65,519.57 L845.14,519.48 L846.64,519.39 L848.13,519.30 L849.63,519.21 L851.12,519.12 L852.62,519.03 L854.11,518.94 L855.61,518.84 L857.10,518.75 L858.60,518.65 L860.09,518.56 L861.59,518.47 L863.08,518.37 L864.58,518.28 L866.07,518.20 L867.57,518.11 L869.06,518.03 L870.56,517.96 L872.06,517.88 L873.55,517.81 L875.05,517.75 L876.55,517.70 L878.05,517.64 L879.55,517.60 L881.05,517.56 L882.55,517.53 L884.05,517.51 L885.55,517.49 L887.05,517.48 L888.55,517.48 L890.06,517.48 L891.56,517.48 L893.06,517.49 L894.57,517.50 L896.07,517.51 L897.57,517.53 L899.08,517.55 L900.58,517.57 L902.09,517.59 L903.59,517.62 L905.10,517.64 L906.60,517.67 L908.10,517.69 L909.61,517.72 L911.11,517.74 L912.62,517.77 L914.12,517.79 L915.62,517.80 L917.13,517.82 L918.63,517.83 L920.13,517.84 L921.63,517.85 L923.14,517.85 L924.64,517.85 L926.14,517.84 L927.64,517.82 L929.14,517.80 L930.64,517.78 L932.14,517.74 L933.63,517.70 L935.13,517.66 L936.63,517.60 L938.12,517.54 L939.62,517.46 L941.11,517.38 L942.60,517.29 L944.09,517.18 L945.58,517.07 L947.07,516.95 L948.56,516.81 L950.05,516.67 L951.54,516.51 L953.02,516.33 L954.51,516.15 L955.99,515.95 L957.47,515.74 L958.95,515.51 L960.43,515.27 L961.91,515.01 L963.38,514.74 L964.86,514.46 L966.33,514.17 L967.80,513.86 L969.27,513.55 L970.73,513.23 L972.19,512.90 L973.65,512.56 L975.10,512.22 L976.55,511.88 L978.01,511.53 L979.46,511.20 L980.91,510.87 L982.37,510.55 L983.83,510.25 L985.29,509.96 L986.76,509.69 L988.24,509.45 L989.72,509.22 L991.21,509.02 L992.71,508.83 L994.20,508.67 L995.71,508.51 L997.21,508.38 L998.72,508.25 L1000.23,508.13 L1001.75,508.03 L1003.26,507.93 L1004.77,507.84 L1006.28,507.75 L1007.79,507.67 L1009.30,507.59 L1010.81,507.51 L1012.31,507.43 L1013.81,507.35 L1015.31,507.26 L1016.80,507.17 L1018.28,507.08 L1019.77,506.98 L1021.25,506.87 L1022.72,506.76 L1024.20,506.65 L1025.67,506.53 L1027.14,506.40 L1028.61,506.26 L1030.08,506.12 L1031.55,505.97 L1033.01,505.81 L1034.48,505.65 L1035.94,505.47 L1037.41,505.29 L1038.88,505.10 L1040.34,504.89 L1041.81,504.68 L1043.28,504.46 L1044.75,504.23 L1046.22,503.98 L1047.69,503.73 L1049.17,503.46 L1050.65,503.18 L1052.13,502.89 L1053.62,502.58 L1055.11,502.26 L1056.60,501.93 L1058.10,501.58 L1059.60,501.22 L1061.10,500.85 L1062.61,500.46 L1064.12,500.05 L1065.62,499.61 L1067.11,499.15 L1068.59,498.66 L1070.04,498.13 L1071.46,497.57 L1072.86,496.96 L1074.21,496.30 L1075.52,495.59 L1076.78,494.83 L1077.99,494.01 L1079.14,493.13 L1080.23,492.18 L1081.24,491.16 L1082.18,490.07 L1083.03,488.92 L1083.79,487.71 L1084.45,486.44 L1084.99,485.14 L1085.43,483.79 L1085.76,482.40 L1085.99,480.98 L1086.14,479.53 L1086.21,478.05 L1086.20,476.55 L1086.13,475.04 L1086.01,473.51 L1085.83,471.97 L1085.62,470.42 L1085.37,468.87 L1085.10,467.33 L1084.81,465.79 L1084.51,464.26 L1084.21,462.74 L1083.92,461.24 L1083.61,459.75 L1083.31,458.27 L1083.01,456.80 L1082.70,455.34 L1082.38,453.88 L1082.06,452.44 L1081.74,451.00 L1081.40,449.56 L1081.06,448.13 L1080.71,446.70 L1080.35,445.27 L1079.98,443.85 L1079.60,442.42 L1079.20,440.99 L1078.79,439.55 L1078.37,438.12 L1077.94,436.69 L1077.50,435.25 L1077.04,433.82 L1076.57,432.39 L1076.09,430.96 L1075.61,429.53 L1075.11,428.11 L1074.60,426.69 L1074.08,425.27 L1073.55,423.86 L1073.01,422.45 L1072.46,421.05 L1071.90,419.66 L1071.33,418.27 L1070.75,416.88 L1070.17,415.50 L1069.58,414.12 L1068.99,412.75 L1068.39,411.38 L1067.79,410.01 L1067.18,408.64 L1066.57,407.28 L1065.96,405.92 L1065.35,404.55 L1064.74,403.19 L1064.13,401.83 L1063.52,400.46 L1062.91,399.10 L1062.31,397.73 L1061.70,396.37 L1061.08,395.01 L1060.46,393.65 L1059.81,392.31 L1059.16,390.97 L1058.48,389.65 L1057.78,388.34 L1057.06,387.04 L1056.33,385.74 L1055.59,384.45 L1054.83,383.17 L1054.07,381.88 L1053.31,380.59 L1052.55,379.30 L1051.78,378.00 L1051.02,376.70 L1050.26,375.40 L1049.50,374.10 L1048.76,372.79 L1048.02,371.47 L1047.29,370.15 L1046.57,368.82 L1045.87,367.49 L1045.18,366.15 L1044.52,364.81 L1043.87,363.45 L1043.24,362.09 L1042.64,360.72 L1042.06,359.35 L1041.50,357.96 L1040.98,356.57 L1040.49,355.16 L1040.03,353.75 L1039.60,352.33 L1039.21,350.89 L1038.85,349.45 L1038.54,347.99 L1038.26,346.52 L1038.03,345.04 L1037.84,343.55 L1037.70,342.05 L1037.61,340.53 L1037.57,339.00 L1037.58,337.45" stroke="#0000ff" stroke-width="2" fill="none" stroke-linejoin="round"/>
<path d="M248.00,531.00 L300.00,530.21 L301.50,530.19 L303.00,530.17 L304.49,530.16 L305.99,530.14 L307.49,530.13 L308.99,530.11 L310.48,530.09 L311.98,530.07 L313.48,530.06 L314.98,530.04 L316.47,530.02 L317.97,530.00 L319.47,529.98 L320.97,529.96 L322.47,529.94 L323.96,529.92 L325.46,529.90 L326.96,529.88 L328.46,529.86 L329.95,529.84 L331.45,529.82 L332.95,529.80 L334.45,529.77 L335.94,529.75 L337.44,529.73 L338.94,529.71 L340.44,529.69 L341.94,529.66 L343.43,529.64 L344.93,529.62 L346.43,529.59 L347.93,529.57 L349.42,529.54 L350.92,529.52 L352.42,529.49 L353.92,529.47 L355.41,529.44 L356.91,529.42 L358.41,529.39 L359.91,529.37 L361.40,529.34 L362.90,529.31 L364.40,529.29 L365.90,529.26 L367.40,529.23 L368.89,529.21 L370.39,529.18 L371.89,529.15 L373.39,529.13 L374.88,529.10 L376.38,529.07 L377.88,529.04 L379.38,529.01 L380.87,528.99 L382.37,528.96 L383.87,528.93 L385.37,528.90 L386.86,528.87 L388.36,528.84 L389.86,528.81 L391.36,528.78 L392.86,528.75 L394.35,528.72 L395.85,528.69 L397.35,528.66 L398.85,528.63 L400.34,528.60 L401.84,528.57 L403.34,528.54 L404.84,528.51 L406.33,528.48 L407.83,528.45 L409.33,528.42 L410.83,528.38 L412.32,528.35 L413.82,528.32 L415.32,528.29 L416.82,528.26 L418.31,528.23 L419.81,528.20 L421.31,528.16 L422.81,528.13 L424.31,528.10 L425.80,528.07 L427.30,528.03 L428.80,528.00 L430.30,527.97 L431.79,527.94 L433.29,527.91 L434.79,527.87 L436.29,527.84 L437.78,527.81 L439.28,527.77 L440.78,527.74 L442.28,527.71 L443.77,527.68 L445.27,527.64 L446.77,527.61 L448.27,527.58 L449.76,527.54 L451.26,527.51 L452.76,527.48 L454.26,527.44 L455.75,527.41 L457.25,527.38 L458.75,527.34 L460.25,527.31 L461.74,527.28 L463.24,527.24 L464.74,527.21 L466.24,527.18 L467.74,527.14 L469.23,527.11 L470.73,527.08 L472.23,527.04 L473.73,527.01 L475.22,526.98 L476.72,526.94 L478.22,526.91 L479.72,526.88 L481.21,526.85 L482.71,526.81 L484.21,526.78 L485.71,526.75 L487.20,526.71 L488.70,526.68 L490.20,526.65 L491.70,526.61 L493.19,526.58 L494.69,526.55 L496.19,526.52 L497.69,526.48 L499.18,526.45 L500.68,526.42 L502.18,526.39 L503.68,526.35 L505.17,526.32 L506.67,526.29 L508.17,526.26 L509.67,526.22 L511.16,526.19 L512.66,526.16 L514.16,526.13 L515.66,526.10 L517.15,526.07 L518.65,526.03 L520.15,526.00 L521.65,525.97 L523.14,525.94 L524.64,525.91 L526.14,525.88 L527.64,525.85 L529.13,525.82 L530.63,525.79 L532.13,525.76 L533.63,525.72 L535.12,525.69 L536.62,525.66 L538.12,525.63 L539.62,525.60 L541.11,525.57 L542.61,525.55 L544.11,525.52 L545.61,525.49 L547.11,525.46 L548.60,525.43 L550.10,525.40 L551.60,525.37 L553.10,525.34 L554.59,525.31 L556.09,525.29 L557.59,525.26 L559.09,525.23 L560.58,525.20 L562.08,525.18 L563.58,525.15 L565.07,525.12 L566.57,525.08 L568.07,525.04 L569.57,525.00 L571.06,524.95 L572.56,524.90 L574.05,524.84 L575.55,524.77 L577.04,524.69 L578.53,524.60 L580.03,524.50 L581.52,524.38 L583.01,524.26 L584.50,524.13 L585.99,523.99 L587.48,523.85 L588.97,523.70 L590.46,523.55 L591.95,523.40 L593.44,523.25 L594.93,523.11 L596.42,522.97 L597.91,522.84 L599.40,522.72 L600.89,522.60 L602.38,522.48 L603.87,522.38 L605.37,522.27 L606.86,522.18 L608.35,522.09 L609.85,522.00 L611.34,521.92 L612.84,521.84 L614.33,521.77 L615.83,521.70 L617.32,521.64 L618.82,521.58 L620.31,521.52 L621.81,521.47 L623.31,521.42 L624.80,521.37 L626.30,521.33 L627.80,521.29 L629.30,521.25 L630.79,521.22 L632.29,521.18 L633.79,521.15 L635.29,521.13 L636.79,521.10 L638.29,521.08 L639.78,521.05 L641.28,521.03 L642.78,521.01 L644.28,520.99 L645.78,520.97 L647.28,520.95 L648.78,520.93 L650.28,520.91 L651.77,520.90 L653.27,520.88 L654.77,520.86 L656.27,520.84 L657.77,520.82 L659.27,520.80 L660.77,520.78 L662.27,520.76 L663.77,520.73 L665.27,520.71 L666.76,520.68 L668.26,520.65 L669.76,520.62 L671.26,520.58 L672.76,520.55 L674.25,520.51 L675.75,520.47 L677.25,520.43 L678.75,520.39 L680.25,520.35 L681.74,520.30 L683.24,520.25 L684.74,520.20 L686.23,520.15 L687.73,520.10 L689.23,520.05 L690.73,520.00 L692.22,519.94 L693.72,519.89 L695.22,519.83 L696.71,519.77 L698.21,519.71 L699.71,519.65 L701.20,519.59 L702.70,519.53 L704.19,519.46 L705.69,519.40 L707.19,519.33 L708.68,519.27 L710.18,519.20 L711.68,519.13 L713.17,519.07 L714.67,519.00 L716.16,518.93 L717.66,518.86 L719.16,518.79 L720.65,518.72 L722.15,518.65 L723.64,518.58 L725.14,518.52 L726.64,518.45 L728.13,518.38 L729.63,518.30 L731.12,518.23 L732.62,518.17 L734.12,518.10 L735.61,518.03 L737.11,517.96 L738.60,517.89 L740.10,517.82 L741.60,517.75 L743.09,517.68 L744.59,517.61 L746.09,517.55 L747.58,517.48 L749.08,517.42 L750.57,517.35 L752.07,517.29 L753.57,517.22 L755.06,517.16 L756.56,517.10 L758.06,517.04 L759.55,516.98 L761.05,516.92 L762.55,516.86 L764.04,516.81 L765.54,516.75 L767.04,516.70 L768.54,516.64 L770.03,516.59 L771.53,516.54 L773.03,516.49 L774.53,516.44 L776.02,516.40 L777.52,516.35 L779.02,516.30 L780.52,516.26 L782.01,516.21 L783.51,516.17 L785.01,516.12 L786.51,516.07 L788.00,516.03 L789.50,515.98 L791.00,515.93 L792.50,515.88 L793.99,515.82 L795.49,515.77 L796.99,515.71 L798.48,515.65 L799.98,515.59 L801.47,515.53 L802.97,515.46 L804.46,515.39 L805.96,515.32 L807.45,515.24 L808.95,515.16 L810.44,515.08 L811.94,514.99 L813.43,514.90 L814.92,514.80 L816.42,514.70 L817.91,514.59 L819.40,514.48 L820.89,514.37 L822.38,514.25 L823.87,514.12 L825.36,513.99 L826.85,513.85 L828.34,513.70 L829.83,513.55 L831.32,513.39 L832.80,513.23 L834.29,513.05 L835.78,512.87 L837.26,512.69 L838.75,512.49 L840.23,512.29 L841.71,512.08 L843.19,511.87 L844.68,511.65 L846.16,511.42 L847.64,511.20 L849.12,510.98 L850.61,510.76 L852.09,510.55 L853.57,510.34 L855.06,510.14 L856.54,509.95 L858.03,509.77 L859.52,509.59 L861.00,509.43 L862.49,509.27 L863.98,509.11 L865.47,508.96 L866.96,508.82 L868.45,508.69 L869.94,508.56 L871.43,508.43 L872.92,508.32 L874.42,508.20 L875.91,508.09 L877.40,507.99 L878.90,507.89 L880.39,507.80 L881.89,507.70 L883.38,507.62 L884.88,507.53 L886.37,507.45 L887.87,507.37 L889.36,507.30 L890.86,507.22 L892.36,507.15 L893.85,507.08 L895.35,507.01 L896.85,506.95 L898.35,506.88 L899.84,506.82 L901.34,506.75 L902.84,506.69 L904.34,506.63 L905.83,506.57 L907.33,506.50 L908.83,506.44 L910.33,506.38 L911.83,506.31 L913.32,506.24 L914.82,506.17 L916.32,506.10 L917.82,506.03 L919.31,505.96 L920.81,505.88 L922.31,505.80 L923.80,505.72 L925.30,505.64 L926.80,505.55 L928.29,505.45 L929.79,505.36 L931.28,505.26 L932.78,505.15 L934.27,505.05 L935.77,504.94 L937.26,504.82 L938.75,504.70 L940.25,504.58 L941.74,504.45 L943.23,504.33 L944.73,504.19 L946.22,504.06 L947.71,503.92 L949.20,503.77 L950.69,503.62 L952.18,503.47 L953.67,503.32 L955.16,503.16 L956.65,503.00 L958.14,502.83 L959.63,502.66 L961.11,502.49 L962.60,502.31 L964.09,502.13 L965.57,501.95 L967.06,501.76 L968.55,501.57 L970.03,501.37 L971.52,501.17 L973.00,500.97 L974.48,500.76 L975.97,500.55 L977.45,500.34 L978.93,500.12 L980.41,499.90 L981.89,499.68 L983.37,499.45 L984.85,499.22 L986.33,498.98 L987.81,498.74 L989.29,498.50 L990.77,498.25 L992.24,498.00 L993.72,497.75 L995.19,497.49 L996.67,497.23 L998.14,496.97 L999.62,496.70 L1001.09,496.43 L1002.56,496.15 L1004.03,495.87 L1005.51,495.59 L1006.98,495.30 L1008.45,495.01 L1009.92,494.72 L1011.38,494.42 L1012.85,494.12 L1014.32,493.81 L1015.78,493.51 L1017.25,493.19 L1018.72,492.88 L1020.18,492.56 L1021.64,492.24 L1023.11,491.91 L1024.57,491.58 L1026.03,491.25 L1027.49,490.91 L1028.95,490.57 L1030.41,490.22 L1031.87,489.87 L1033.32,489.52 L1034.78,489.17 L1036.24,488.81 L1037.69,488.44 L1039.14,488.08 L1040.60,487.71 L1042.05,487.33 L1043.50,486.96 L1044.95,486.57 L1046.40,486.18 L1047.84,485.78 L1049.28,485.37 L1050.72,484.93 L1052.15,484.48 L1053.57,484.00 L1054.98,483.49 L1056.38,482.95 L1057.76,482.37 L1059.14,481.76 L1060.50,481.11 L1061.85,480.40 L1063.18,479.65 L1064.48,478.86 L1065.74,478.01 L1066.97,477.11 L1068.15,476.15 L1069.26,475.14 L1070.32,474.07 L1071.30,472.95 L1072.20,471.77 L1073.02,470.53 L1073.76,469.24 L1074.40,467.90 L1074.94,466.52 L1075.39,465.09 L1075.75,463.64 L1076.01,462.15 L1076.19,460.65 L1076.28,459.14 L1076.28,457.63 L1076.21,456.12 L1076.06,454.62 L1075.84,453.14 L1075.54,451.68 L1075.18,450.26 L1074.75,448.85 L1074.26,447.47 L1073.71,446.11 L1073.11,444.77 L1072.45,443.45 L1071.75,442.15 L1071.00,440.87 L1070.21,439.61 L1069.38,438.36 L1068.52,437.13 L1067.63,435.92 L1066.70,434.71 L1065.76,433.53 L1064.79,432.35 L1063.80,431.18 L1062.80,430.02 L1061.79,428.87 L1060.76,427.73 L1059.74,426.60 L1058.71,425.47 L1057.69,424.35 L1056.66,423.23 L1055.65,422.12 L1054.63,421.01 L1053.62,419.90 L1052.61,418.80 L1051.61,417.69 L1050.60,416.59 L1049.61,415.49 L1048.61,414.39 L1047.61,413.30 L1046.62,412.20 L1045.63,411.10 L1044.65,410.00 L1043.66,408.90 L1042.68,407.79 L1041.70,406.69 L1040.72,405.58 L1039.74,404.47 L1038.77,403.35 L1037.80,402.23 L1036.82,401.11 L1035.85,399.98 L1034.88,398.84 L1033.92,397.70 L1032.95,396.56 L1031.99,395.41 L1031.03,394.25 L1030.07,393.09 L1029.12,391.92 L1028.18,390.75 L1027.24,389.57 L1026.30,388.39 L1025.37,387.20 L1024.45,386.00 L1023.53,384.80 L1022.62,383.59 L1021.72,382.38 L1020.83,381.16 L1019.94,379.94 L1019.07,378.71 L1018.20,377.47 L1017.35,376.23 L1016.51,374.98 L1015.68,373.72 L1014.87,372.46 L1014.08,371.18 L1013.30,369.90 L1012.54,368.61 L1011.80,367.32 L1011.08,366.01 L1010.39,364.69 L1009.71,363.37 L1009.07,362.03 L1008.45,360.68 L1007.85,359.32 L1007.29,357.96 L1006.75,356.58 L1006.25,355.18 L1005.78,353.78 L1005.34,352.36 L1004.94,350.93 L1004.57,349.49 L1004.24,348.03 L1003.95,346.56 L1003.70,345.07 L1003.49,343.57 L1003.32,342.06 L1003.19,340.53 L1003.11,338.98 L1003.08,337.42" stroke="#ff0000" stroke-width="2" fill="none" stroke-linejoin="round"/>
<rect x="167.5" y="348.5" width="108" height="55" fill="#fff" stroke="#262626" stroke-width="1"/>
<path d="M171.5,358.4H212.5" stroke="#000" stroke-width="2" fill="none"/>
<text x="216" y="363.8" font-size="13" letter-spacing="-0.2" fill="#000">x = 0 m</text>
<path d="M171.5,376.3H212.5" stroke="#0000ff" stroke-width="2" fill="none"/>
<text x="216" y="380.6" font-size="13" letter-spacing="-0.2" fill="#000">x = 400 m</text>
<path d="M171.5,393.4H212.5" stroke="#ff0000" stroke-width="2" fill="none"/>
<text x="216" y="397.4" font-size="13" letter-spacing="-0.2" fill="#000">x = 750 m</text>
<path d="M337.5,607.5V800.5M518.5,607.5V800.5M700.5,607.5V800.5M881.5,607.5V800.5M1063.5,607.5V800.5M156.5,736.5H1085.5M156.5,671.5H1085.5" stroke="#dfdfdf" stroke-width="1" fill="none"/>
<rect x="156.5" y="607.5" width="929.0" height="193.0" fill="none" stroke="#262626" stroke-width="1"/>
<path d="M156.5,800.5v-8.5M156.5,607.5v8.5M337.5,800.5v-8.5M337.5,607.5v8.5M518.5,800.5v-8.5M518.5,607.5v8.5M700.5,800.5v-8.5M700.5,607.5v8.5M881.5,800.5v-8.5M881.5,607.5v8.5M1063.5,800.5v-8.5M1063.5,607.5v8.5M156.5,800.5h8.5M1085.5,800.5h-8.5M156.5,736.5h8.5M1085.5,736.5h-8.5M156.5,671.5h8.5M1085.5,671.5h-8.5M156.5,607.5h8.5M1085.5,607.5h-8.5" stroke="#262626" stroke-width="1" fill="none"/>
<text transform="translate(156.00,821.0) scale(1,1.05)" font-size="13.7" fill="#262626" text-anchor="middle">0</text>
<text transform="translate(337.00,821.0) scale(1,1.05)" font-size="13.7" fill="#262626" text-anchor="middle">50</text>
<text transform="translate(518.00,821.0) scale(1,1.05)" font-size="13.7" fill="#262626" text-anchor="middle">100</text>
<text transform="translate(700.00,821.0) scale(1,1.05)" font-size="13.7" fill="#262626" text-anchor="middle">150</text>
<text transform="translate(881.00,821.0) scale(1,1.05)" font-size="13.7" fill="#262626" text-anchor="middle">200</text>
<text transform="translate(1063.00,821.0) scale(1,1.05)" font-size="13.7" fill="#262626" text-anchor="middle">250</text>
<text transform="translate(148.3,805.80) scale(1,1.05)" font-size="13.7" fill="#262626" text-anchor="end">0</text>
<text transform="translate(148.3,740.77) scale(1,1.05)" font-size="13.7" fill="#262626" text-anchor="end">100</text>
<text transform="translate(148.3,676.83) scale(1,1.05)" font-size="13.7" fill="#262626" text-anchor="end">200</text>
<text transform="translate(148.3,611.80) scale(1,1.05)" font-size="13.7" fill="#262626" text-anchor="end">300</text>
<text transform="translate(118,704.5) rotate(-90)" font-size="15.1" fill="#262626" text-anchor="middle">Height [m]</text>
<text x="621" y="845.5" font-size="15.4" fill="#262626" text-anchor="middle">Turbulent Dissipation Rate [m<tspan dx="0.5" dy="-7" font-size="12.3">2</tspan><tspan dy="7">/s</tspan><tspan dx="0.5" dy="-7" font-size="12.3">3</tspan><tspan dy="7">]</tspan></text>
<path d="M157.00,607.50 L157.00,609.52 L157.00,611.57 L157.00,613.64 L157.00,615.74 L157.00,617.86 L157.00,620.01 L157.00,622.17 L156.99,624.36 L156.99,626.56 L156.99,628.78 L156.99,631.02 L156.99,633.27 L156.99,635.54 L156.99,637.81 L156.98,640.10 L156.98,642.40 L156.98,644.71 L156.98,647.03 L156.98,649.36 L156.97,651.69 L156.97,654.02 L156.97,656.36 L156.97,658.70 L156.97,661.04 L156.96,663.38 L156.96,665.72 L156.96,668.05 L156.96,670.38 L156.96,672.71 L156.95,675.03 L156.95,677.34 L156.95,679.64 L156.95,681.94 L156.95,684.22 L156.94,686.49 L156.94,688.75 L156.94,690.99 L156.94,693.22 L156.94,695.43 L156.94,697.62 L156.94,699.79 L156.94,701.94 L156.94,704.07 L156.93,706.17 L156.93,708.26 L156.93,710.31 L156.93,712.34 L156.93,714.35 L156.93,716.32 L156.93,718.26 L156.94,720.17 L156.94,722.05 L156.94,723.90 L156.94,725.71 L156.94,727.48 L156.94,729.22 L156.94,730.92 L156.95,732.58 L156.95,734.20 L156.95,735.77 L156.95,737.31 L156.96,738.80 L156.96,740.24 L156.96,741.64 L156.97,742.98 L156.97,744.28 L156.98,745.53 L156.98,746.73 L156.99,747.87 L156.99,748.96 L157.00,750.00 L157.01,752.82 L157.01,755.30 L157.01,757.51 L157.01,759.48 L157.02,761.27 L157.05,762.92 L157.11,764.48 L157.20,766.00 L157.43,768.22 L157.72,770.11 L158.00,772.00 L158.25,774.01 L158.48,776.03 L158.70,778.00 L158.94,780.66 L159.20,783.30 L159.53,786.30 L160.00,789.10 L160.52,790.78 L161.20,792.20 L162.02,793.27 L163.00,794.20 L164.20,795.17 L165.50,796.00 L166.65,796.55 L168.00,797.00 L170.09,797.49 L172.61,797.94 L175.30,798.30 L177.24,798.49 L179.22,798.62 L181.31,798.71 L183.55,798.80 L186.00,798.90 L187.66,798.97 L189.42,799.05 L191.26,799.12 L193.19,799.19 L195.19,799.27 L197.23,799.34 L199.33,799.41 L201.45,799.49 L203.59,799.56 L205.73,799.64 L207.88,799.72 L210.00,799.80 L211.90,799.87 L213.83,799.95 L215.79,800.03 L217.76,800.11 L219.75,800.18 L221.76,800.27 L223.78,800.35 L225.81,800.43 L227.84,800.51 L229.88,800.59 L231.91,800.67 L233.95,800.76 L235.97,800.84 L237.99,800.92 L240.00,801.00 L1085.50,801.00" stroke="#000" stroke-width="2" fill="none" stroke-linejoin="round"/>
<path d="M157.20,607.50 L157.20,609.52 L157.20,611.55 L157.20,613.59 L157.20,615.64 L157.20,617.70 L157.20,619.78 L157.20,621.86 L157.20,623.95 L157.20,626.05 L157.20,628.15 L157.20,630.27 L157.20,632.38 L157.20,634.50 L157.20,636.63 L157.20,638.75 L157.19,640.88 L157.19,643.02 L157.19,645.15 L157.19,647.28 L157.19,649.41 L157.19,651.54 L157.19,653.66 L157.19,655.78 L157.19,657.90 L157.19,660.01 L157.19,662.12 L157.19,664.22 L157.19,666.32 L157.19,668.40 L157.19,670.48 L157.19,672.55 L157.19,674.60 L157.19,676.65 L157.19,678.68 L157.19,680.70 L157.19,682.71 L157.19,684.70 L157.19,686.68 L157.19,688.64 L157.19,690.59 L157.19,692.51 L157.19,694.42 L157.19,696.31 L157.19,698.18 L157.19,700.03 L157.19,701.86 L157.19,703.67 L157.19,705.45 L157.19,707.21 L157.20,708.95 L157.20,710.66 L157.20,712.34 L157.20,714.00 L157.20,716.41 L157.20,718.80 L157.20,721.17 L157.20,723.53 L157.20,725.87 L157.20,728.19 L157.20,730.48 L157.20,732.75 L157.20,734.98 L157.19,737.19 L157.19,739.36 L157.19,741.50 L157.19,743.60 L157.19,745.66 L157.20,747.67 L157.20,749.64 L157.20,751.57 L157.21,753.44 L157.22,755.26 L157.23,757.03 L157.24,758.75 L157.25,760.40 L157.26,762.00 L157.28,763.53 L157.30,765.00 L157.34,767.64 L157.39,770.02 L157.44,772.21 L157.50,774.25 L157.56,776.20 L157.63,778.09 L157.70,780.00 L157.77,782.17 L157.83,784.27 L157.91,786.29 L158.02,788.20 L158.20,790.00 L158.44,792.21 L158.75,794.24 L159.40,796.00 L160.85,797.88 L163.00,799.30 L164.61,799.86 L166.53,800.23 L168.70,800.48 L171.04,800.64 L173.50,800.76 L176.00,800.90 L177.74,800.99 L179.57,801.05 L181.48,801.09 L183.45,801.11 L185.48,801.11 L187.54,801.10 L189.63,801.08 L191.73,801.05 L193.83,801.03 L195.91,801.01 L197.98,801.00 L200.00,801.00 L1085.50,801.00" stroke="#0000ff" stroke-width="2" fill="none" stroke-linejoin="round"/>
<path d="M157.00,607.50 L157.00,609.52 L157.00,611.56 L157.00,613.60 L157.00,615.66 L157.00,617.72 L157.00,619.79 L157.00,621.86 L157.00,623.94 L157.00,626.03 L157.00,628.13 L157.00,630.22 L157.00,632.33 L157.00,634.43 L157.00,636.54 L157.00,638.65 L157.00,640.77 L157.00,642.88 L157.00,644.99 L157.00,647.11 L157.00,649.22 L157.00,651.33 L157.00,653.44 L157.00,655.55 L157.00,657.65 L157.00,659.75 L157.00,661.85 L157.00,663.94 L157.00,666.02 L157.00,668.10 L157.00,670.17 L157.00,672.24 L157.00,674.29 L157.00,676.34 L157.00,678.38 L157.00,680.40 L157.00,682.42 L157.00,684.43 L157.00,686.42 L157.00,688.40 L157.00,690.37 L157.00,692.33 L157.00,694.27 L157.00,696.19 L157.00,698.10 L157.00,700.00 L157.00,701.88 L157.00,703.74 L157.00,705.58 L157.00,707.40 L157.00,709.21 L157.00,710.99 L157.00,712.76 L157.00,714.50 L157.00,716.81 L157.00,719.13 L157.00,721.46 L156.99,723.80 L156.99,726.14 L156.98,728.48 L156.98,730.81 L156.97,733.13 L156.97,735.44 L156.96,737.74 L156.96,740.01 L156.95,742.27 L156.95,744.50 L156.94,746.70 L156.94,748.86 L156.93,750.99 L156.93,753.08 L156.93,755.13 L156.93,757.12 L156.93,759.07 L156.93,760.97 L156.93,762.80 L156.93,764.58 L156.94,766.29 L156.94,767.93 L156.95,769.50 L156.96,771.00 L156.97,772.42 L156.98,773.75 L157.00,775.00 L157.04,777.84 L157.08,780.24 L157.13,782.33 L157.20,784.22 L157.30,786.00 L157.53,788.66 L157.80,791.00 L157.93,793.01 L158.30,794.90 L159.26,796.85 L160.80,798.50 L162.80,799.41 L165.29,799.98 L168.00,800.40 L169.82,800.62 L171.76,800.75 L173.80,800.83 L175.88,800.88 L177.96,800.92 L180.00,801.00 L1085.50,801.00" stroke="#ff0000" stroke-width="2" fill="none" stroke-linejoin="round"/>
<rect x="167.5" y="618.5" width="108" height="54" fill="#fff" stroke="#262626" stroke-width="1"/>
<path d="M171.5,628.4H212.5" stroke="#000" stroke-width="2" fill="none"/>
<text x="216" y="633.8" font-size="13" letter-spacing="-0.2" fill="#000">x = 0 m</text>
<path d="M171.5,645.5H212.5" stroke="#0000ff" stroke-width="2" fill="none"/>
<text x="216" y="650.6" font-size="13" letter-spacing="-0.2" fill="#000">x = 400 m</text>
<path d="M171.5,662.5H212.5" stroke="#ff0000" stroke-width="2" fill="none"/>
<text x="216" y="667.4" font-size="13" letter-spacing="-0.2" fill="#000">x = 750 m</text>
</svg></body></html>
